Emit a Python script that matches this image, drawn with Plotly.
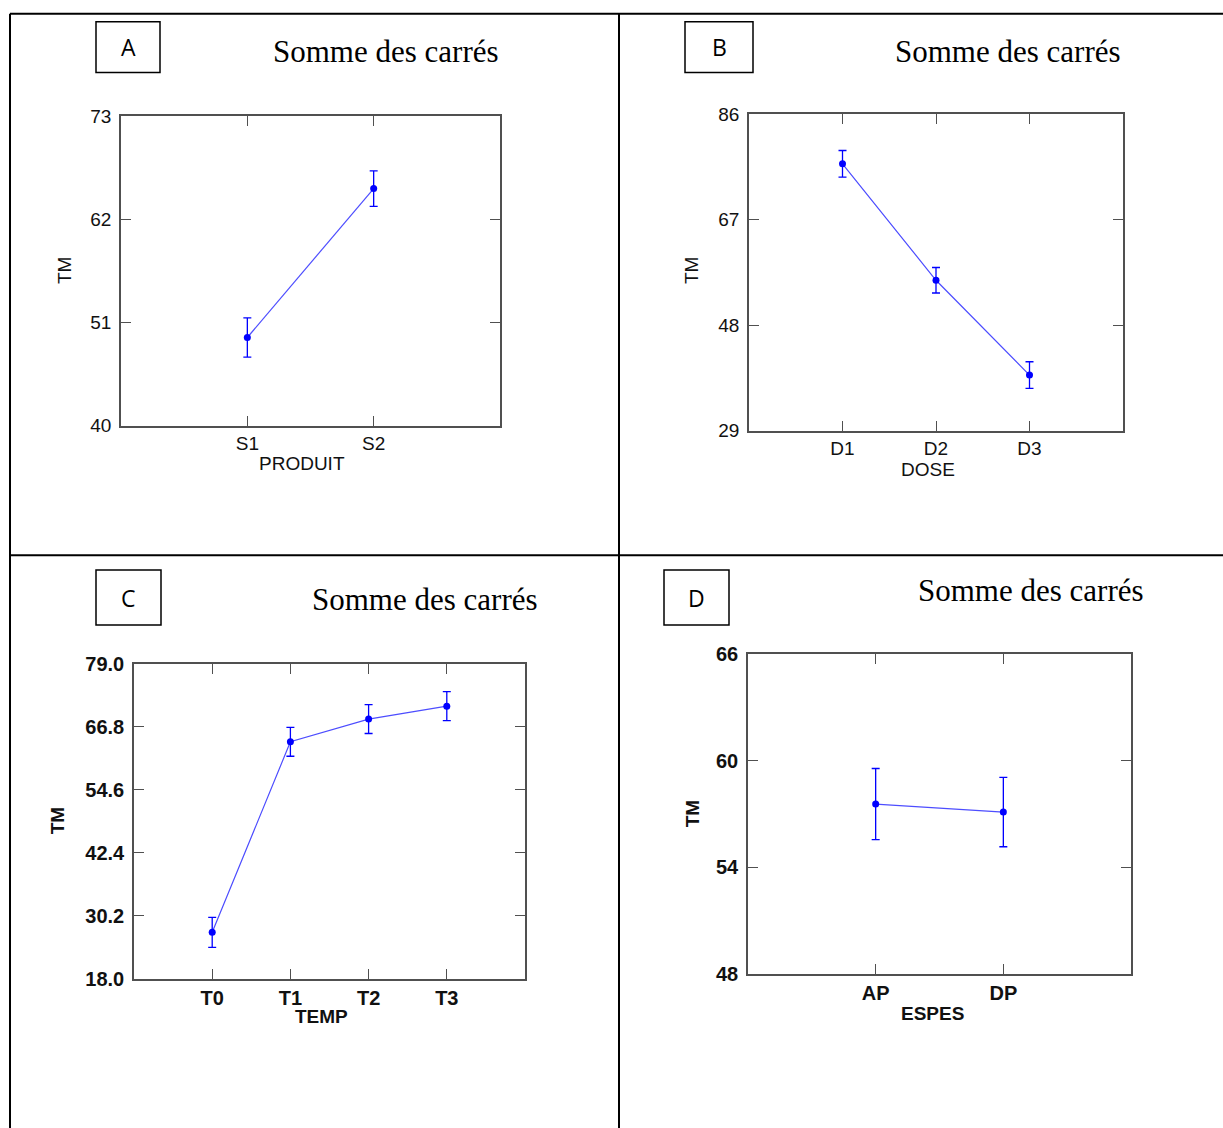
import plotly.graph_objects as go

# Mean TM per factor level, with error-bar half widths
produit = ["S1", "S2"]
tm_produit = [49.4, 65.3]
err_produit = [2.1, 1.9]

dose = ["D1", "D2", "D3"]
tm_dose = [77.1, 56.1, 39.0]
err_dose = [2.4, 2.3, 2.4]

temp = ["T0", "T1", "T2", "T3"]
tm_temp = [27.0, 63.9, 68.3, 70.8]
err_temp = [2.9, 2.8, 2.8, 2.8]

espes = ["AP", "DP"]
tm_espes = [57.55, 57.1]
err_espes = [2.0, 1.95]

# y tick values per panel
yticks_a = [40, 51, 62, 73]
yticks_b = [29, 48, 67, 86]
yticks_c = [18.0, 30.2, 42.4, 54.6, 66.8, 79.0]
yticks_d = [48, 54, 60, 66]

W, H = 1223, 1128
# vertical placement: page offset and scale applied to pixel rows
V_OFF, V_SCALE = 9.2, 0.9835


def px(x):
    return x / W


def py(y):
    return 1 - ((y - V_OFF) / V_SCALE) / H


panels = [
    dict(letter="A", cats=produit, vals=tm_produit, errs=err_produit, yt=yticks_a, fmt="d",
         xtitle="PRODUIT", box=(121, 500, 115, 425), lbox=(96, 160, 20, 71),
         title=(386, 50), ytpos=(64, 270), xtpos=(302, 463), bold=False),
    dict(letter="B", cats=dose, vals=tm_dose, errs=err_dose, yt=yticks_b, fmt="d",
         xtitle="DOSE", box=(749, 1123, 113, 430), lbox=(685, 753, 20, 71),
         title=(1008, 50), ytpos=(691, 270), xtpos=(928, 469), bold=False),
    dict(letter="C", cats=temp, vals=tm_temp, errs=err_temp, yt=yticks_c, fmt=".1f",
         xtitle="TEMP", box=(134, 525, 664, 980), lbox=(96, 161, 570, 625),
         title=(425, 600), ytpos=(57, 822), xtpos=(321, 1018), bold=True),
    dict(letter="D", cats=espes, vals=tm_espes, errs=err_espes, yt=yticks_d, fmt="d",
         xtitle="ESPES", box=(748, 1131, 654, 975), lbox=(664, 729, 570, 625),
         title=(1031, 590), ytpos=(692, 815), xtpos=(932, 1015), bold=True),
]

fig = go.Figure()
shapes = []
annotations = []
frame_col = "#505050"
blue = "#0000ff"

for i, p in enumerate(panels, start=1):
    xa = "x" if i == 1 else f"x{i}"
    ya = "y" if i == 1 else f"y{i}"
    l, r, t, b = p["box"]
    fam = "Liberation Sans"
    weight = "bold" if p["bold"] else "normal"
    tsize = 20 if p["bold"] else 19

    fig.add_trace(go.Scatter(
        x=p["cats"], y=p["vals"], mode="lines+markers",
        line=dict(color="#4d4dff", width=1.2),
        marker=dict(color=blue, size=7),
        error_y=dict(type="data", array=p["errs"], color=blue, thickness=1.3, width=4),
        xaxis=xa, yaxis=ya, showlegend=False, hoverinfo="skip",
    ))

    axis_common = dict(
        showline=True, linecolor=frame_col, linewidth=1.5, mirror="ticks",
        ticks="inside", ticklen=10, tickwidth=1.3, tickcolor=frame_col,
        showgrid=False, zeroline=False,
        tickfont=dict(family=fam, size=tsize, color="#111", weight=weight),
    )
    fig.layout[f"xaxis{'' if i == 1 else i}"] = dict(
        axis_common, domain=[px(l), px(r)], anchor=ya,
        type="category", range=[-1, len(p["cats"])],
    )
    fig.layout[f"yaxis{'' if i == 1 else i}"] = dict(
        axis_common, domain=[py(b), py(t)], anchor=xa, ticklabelstandoff=4,
        range=[p["yt"][0], p["yt"][-1]], tickvals=p["yt"], tickformat=p["fmt"],
    )

    # letter box
    lx0, lx1, ly0, ly1 = p["lbox"]
    shapes.append(dict(type="rect", xref="paper", yref="paper",
                       x0=px(lx0), x1=px(lx1), y0=py(ly1), y1=py(ly0),
                       line=dict(color="black", width=1.5), fillcolor="white"))
    annotations.append(dict(text=p["letter"], xref="paper", yref="paper",
                            x=px((lx0 + lx1) / 2), y=py((ly0 + ly1) / 2),
                            showarrow=False, xanchor="center", yanchor="middle",
                            font=dict(family="Open Sans", size=23, color="black")))
    # panel title
    annotations.append(dict(text="Somme des carrés", xref="paper", yref="paper",
                            x=px(p["title"][0]), y=py(p["title"][1]),
                            showarrow=False, xanchor="center", yanchor="middle",
                            font=dict(family="Liberation Serif", size=31, color="black")))
    # axis titles
    annotations.append(dict(text="TM", xref="paper", yref="paper",
                            x=px(p["ytpos"][0]), y=py(p["ytpos"][1]), textangle=-90,
                            showarrow=False, xanchor="center", yanchor="middle",
                            font=dict(family=fam, size=19, color="#111", weight=weight)))
    annotations.append(dict(text=p["xtitle"], xref="paper", yref="paper",
                            x=px(p["xtpos"][0]), y=py(p["xtpos"][1]),
                            showarrow=False, xanchor="center", yanchor="middle",
                            font=dict(family=fam, size=19, color="#111", weight=weight)))

# table rules separating the four panels
rule = dict(color="black", width=2)
for x0, y0, x1, y1 in [(10, 12, W, 12), (10, 555, W, 555), (10, 12, 10, H + 12), (619, 12, 619, H + 12)]:
    shapes.append(dict(type="line", xref="paper", yref="paper",
                       x0=px(x0), y0=py(y0), x1=px(x1), y1=py(y1), line=rule))

fig.update_layout(
    width=W, height=H, margin=dict(l=0, r=0, t=0, b=0),
    paper_bgcolor="white", plot_bgcolor="white",
    shapes=shapes, annotations=annotations,
)

fig.write_html(
    "out.html",
    post_script="document.body.style.margin='0';document.body.style.overflow='hidden';",
)
